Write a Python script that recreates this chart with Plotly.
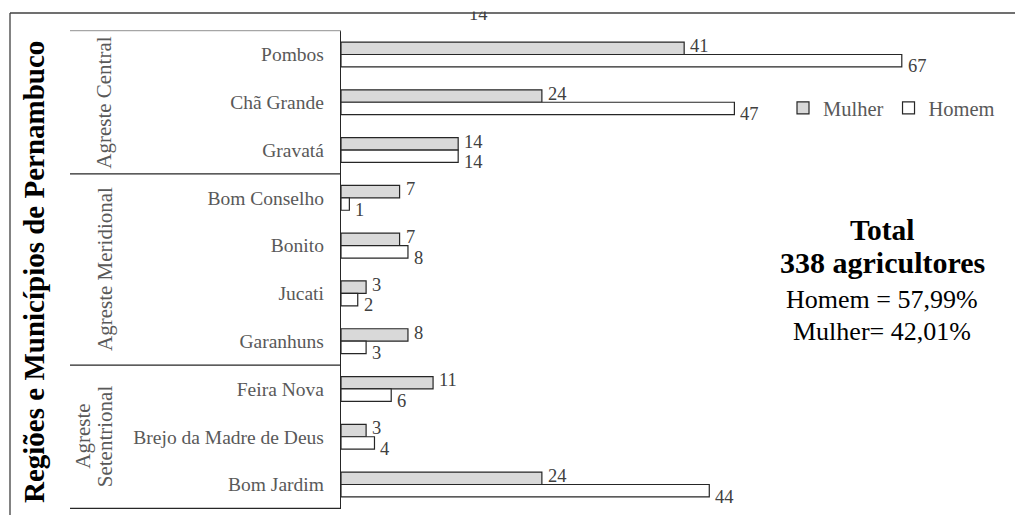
import plotly.graph_objects as go

# Agricultores por município, separados por sexo
municipios = ["Pombos", "Chã Grande", "Gravatá", "Bom Conselho", "Bonito",
              "Jucati", "Garanhuns", "Feira Nova", "Brejo da Madre de Deus",
              "Bom Jardim"]
mulher = [41, 24, 14, 7, 7, 3, 8, 11, 3, 24]
homem = [67, 47, 14, 1, 8, 2, 3, 6, 4, 44]

# Regiões: (rótulo em linhas, índice do primeiro e do último município)
regioes = [
    (["Agreste Central"], 0, 2),
    (["Agreste Meridional"], 3, 6),
    (["Agreste", "Setentrional"], 7, 9),
]

total_m = sum(mulher)
total_h = sum(homem)
total = total_m + total_h
pct_h = f"{100 * total_h / total:.2f}".replace(".", ",")
pct_m = f"{100 * total_m / total:.2f}".replace(".", ",")

SERIF = "Liberation Serif"
FIG_W, FIG_H = 1015, 515
ML, MR, MT, MB = 341, 15, 30, 6
PW = FIG_W - ML - MR
PH = FIG_H - MT - MB
PX_PER_UNIT = 8.37


def px_x(px):
    return (px - ML) / PW


def px_y(py):
    return (FIG_H - MB - py) / PH


label_font = dict(family=SERIF, size=18.5, color="#404040")

fig = go.Figure()
fig.add_trace(go.Bar(
    y=municipios, x=mulher, name="Mulher", orientation="h",
    marker=dict(color="#d9d9d9", line=dict(color="#262626", width=1.2)),
    hoverinfo="skip",
))
fig.add_trace(go.Bar(
    y=municipios, x=homem, name="Homem", orientation="h",
    marker=dict(color="#ffffff", line=dict(color="#262626", width=1.2)),
    hoverinfo="skip",
))

shapes = []
frame = dict(color="#404040", width=1.3)
# moldura externa (topo e lateral esquerda)
shapes.append(dict(type="line", xref="paper", yref="paper",
                   x0=px_x(10), x1=px_x(FIG_W), y0=px_y(13), y1=px_y(13),
                   line=frame))
shapes.append(dict(type="line", xref="paper", yref="paper",
                   x0=px_x(10), x1=px_x(10), y0=px_y(13), y1=px_y(FIG_H),
                   line=frame))
# caixa das regiões
shapes.append(dict(type="line", xref="paper", yref="y",
                   x0=px_x(70), x1=0, y0=-0.5, y1=-0.5,
                   line=dict(color="#a6a6a6", width=1.2)))
for _, first, last in regioes:
    shapes.append(dict(type="line", xref="paper", yref="y",
                       x0=px_x(70), x1=0, y0=last + 0.5, y1=last + 0.5,
                       line=dict(color="#262626", width=1.2)))

annotations = []

# rótulos de valor: Mulher um pouco acima, Homem um pouco abaixo do centro
for serie, dy in ((mulher, 8.5), (homem, -12)):
    for nome, valor in zip(municipios, serie):
        annotations.append(dict(
            text=str(valor), xref="x", yref="y", x=valor, y=nome,
            xanchor="left", yanchor="middle", xshift=4, yshift=dy,
            showarrow=False, font=label_font,
        ))

annotations.append(dict(
    text="<b>Regiões e Municípios de Pernambuco</b>", textangle=-90,
    xref="paper", yref="paper", x=px_x(34), y=px_y(272),
    xanchor="center", yanchor="middle", showarrow=False,
    font=dict(family=SERIF, size=29, color="#000000"),
))
for linhas, first, last in regioes:
    n = len(linhas)
    for i, linha in enumerate(linhas):
        cx = 104.5 - (n - 1 - i) * 21.5
        annotations.append(dict(
            text=linha, textangle=-90,
            xref="paper", yref="y", x=px_x(cx), y=(first + last) / 2,
            xanchor="center", yanchor="middle", showarrow=False,
            font=dict(family=SERIF, size=21, color="#595959"),
        ))

resumo = [
    ("<b>Total</b>", 29.5, 230),
    (f"<b>{total} agricultores</b>", 30, 262),
    (f"Homem = {pct_h}%", 26, 299),
    (f"Mulher= {pct_m}%", 26, 331),
]
for texto, tam, cy in resumo:
    annotations.append(dict(
        text=texto, xref="paper", yref="paper", x=px_x(882), y=px_y(cy),
        xanchor="center", yanchor="middle", showarrow=False,
        font=dict(family=SERIF, size=tam, color="#000000"),
    ))

# rótulo solto no topo, cortado pela moldura
annotations.append(dict(
    text="14", xref="paper", yref="paper", x=px_x(478), y=px_y(14),
    xanchor="center", yanchor="middle", showarrow=False, font=label_font,
))
annotations.append(dict(
    text=" ", xref="paper", yref="paper", x=px_x(478), y=px_y(12),
    xanchor="center", yanchor="bottom", showarrow=False,
    width=34, height=14, bgcolor="#ffffff", borderpad=0,
    font=dict(size=4),
))

fig.update_layout(
    width=FIG_W, height=FIG_H,
    margin=dict(l=ML, r=MR, t=MT, b=MB, pad=0),
    paper_bgcolor="#ffffff", plot_bgcolor="#ffffff",
    barmode="group", bargap=0.48, bargroupgap=0,
    showlegend=True,
    legend=dict(
        orientation="h", x=px_x(783), y=px_y(108),
        xanchor="left", yanchor="middle",
        font=dict(family=SERIF, size=20.5, color="#595959"),
        itemwidth=30, bgcolor="rgba(0,0,0,0)", borderwidth=0,
        traceorder="normal",
    ),
    xaxis=dict(range=[0, PW / PX_PER_UNIT], visible=False, fixedrange=True),
    yaxis=dict(
        type="category", categoryorder="array", categoryarray=municipios,
        autorange="reversed", showline=True, linecolor="#262626",
        linewidth=1.3, ticks="", showgrid=False, zeroline=False,
        tickfont=dict(family=SERIF, size=19.5, color="#595959"),
        ticklabelstandoff=12,
    ),
    shapes=shapes,
    annotations=annotations,
)

fig.write_html("out.html")
